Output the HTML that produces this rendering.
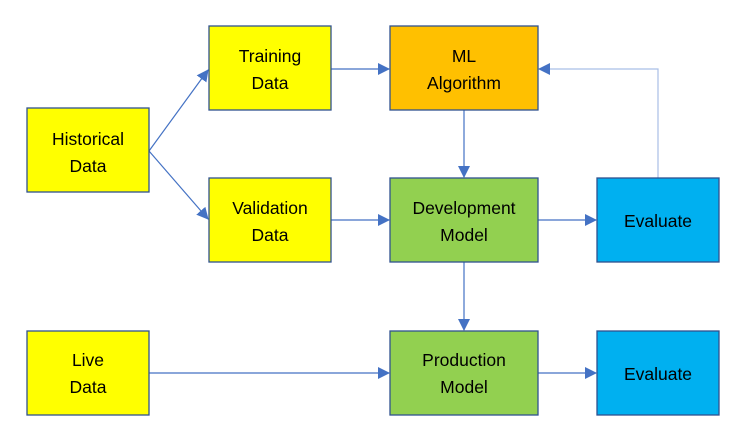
<!DOCTYPE html>
<html><head><meta charset="utf-8"><style>
html,body{margin:0;padding:0;background:#fff;}
svg{display:block;}
text{font-family:"Liberation Sans",sans-serif;font-size:17.5px;fill:#000;text-anchor:middle;}
</style></head><body>
<svg width="746" height="438" viewBox="0 0 746 438" xmlns="http://www.w3.org/2000/svg">
<defs><marker id="a" markerWidth="12" markerHeight="12" refX="11" refY="6" orient="auto" markerUnits="userSpaceOnUse"><path d="M0,0 L12,6 L0,12 z" fill="#4472c4"/></marker></defs>
<g stroke="#4472c4" stroke-width="1.2" fill="none">
<line x1="149" y1="151" x2="208" y2="70" marker-end="url(#a)"/>
<line x1="149" y1="151" x2="208" y2="219" marker-end="url(#a)"/>
<line x1="331" y1="69" x2="389" y2="69" marker-end="url(#a)"/>
<line x1="331" y1="220" x2="389" y2="220" marker-end="url(#a)"/>
<line x1="464" y1="110" x2="464" y2="177" marker-end="url(#a)"/>
<line x1="538" y1="220" x2="596" y2="220" marker-end="url(#a)"/>
<polyline points="658,178 658,69 539,69" marker-end="url(#a)" stroke="#a9bfe6"/>
<line x1="464" y1="262" x2="464" y2="330" marker-end="url(#a)"/>
<line x1="149" y1="373" x2="389" y2="373" marker-end="url(#a)"/>
<line x1="538" y1="373" x2="596" y2="373" marker-end="url(#a)"/>
</g>
<g stroke="#2f528f" stroke-width="1.3">
<rect x="27" y="108" width="122" height="84" fill="#ffff00"/>
<rect x="209" y="26" width="122" height="84" fill="#ffff00"/>
<rect x="390" y="26" width="148" height="84" fill="#ffc000"/>
<rect x="209" y="178" width="122" height="84" fill="#ffff00"/>
<rect x="390" y="178" width="148" height="84" fill="#92d050"/>
<rect x="597" y="178" width="122" height="84" fill="#00b0f0"/>
<rect x="27" y="331" width="122" height="84" fill="#ffff00"/>
<rect x="390" y="331" width="148" height="84" fill="#92d050"/>
<rect x="597" y="331" width="122" height="84" fill="#00b0f0"/>
</g>
<text x="88" y="145">Historical</text><text x="88" y="172">Data</text>
<text x="270" y="62">Training</text><text x="270" y="89">Data</text>
<text x="464" y="62">ML</text><text x="464" y="89">Algorithm</text>
<text x="270" y="214">Validation</text><text x="270" y="241">Data</text>
<text x="464" y="214">Development</text><text x="464" y="241">Model</text>
<text x="658" y="227">Evaluate</text>
<text x="88" y="366">Live</text><text x="88" y="393">Data</text>
<text x="464" y="366">Production</text><text x="464" y="393">Model</text>
<text x="658" y="380">Evaluate</text>
</svg>
</body></html>
